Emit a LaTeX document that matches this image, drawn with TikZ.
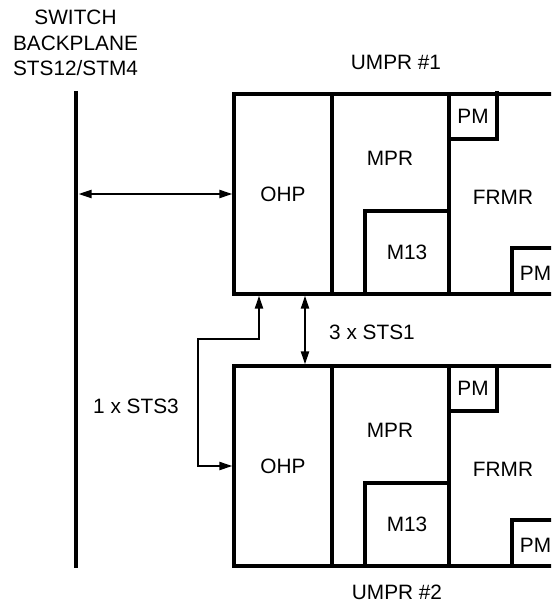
\documentclass[tikz,border=0pt]{standalone}
\usepackage{fontspec}
\setmainfont{Liberation Sans}
\usetikzlibrary{arrows.meta}
\begin{document}
\begin{tikzpicture}[x=1pt,y=-1pt,
  lbl/.style={font=\fontsize{20.8}{25}\selectfont, inner sep=0pt, text height=14.9pt, text depth=0pt},
  part/.style={draw, line width=3.2pt, rectangle, inner sep=0pt, lbl},
  wall/.style={draw, line width=3.2pt},
  bus/.style={draw, line width=4.6pt},
  link/.style={line width=2pt, {Triangle[length=13pt,width=8pt]}-{Triangle[length=13pt,width=8pt]}},
]
\useasboundingbox (0,0) rectangle (551,604);
\clip (0,0) rectangle (551,604);

% backplane
\node[lbl] (sw1) at (75.5,17) {SWITCH};
\node[lbl] (sw2) at (75.5,43) {BACKPLANE};
\node[lbl] (sw3) at (75.5,68) {STS12/STM4};
\coordinate (bptop) at (76,91);
\coordinate (bpbot) at (76,568);
\draw[bus] (bptop) -- (bpbot);

% the two UMPR cards
\foreach \i/\dy in {1/0,2/272}{
  \begin{scope}[shift={(0,\dy)}]
    \draw[wall] (234,94) rectangle (575,294);
    \node[part, minimum width=98pt, minimum height=200pt] (ohp\i) at (283,194) {OHP};
    \draw[wall] (449,94) -- (449,294);
    \node[lbl] (mpr\i) at (390,158) {MPR};
    \node[part, minimum width=84pt, minimum height=83pt] (m13\i) at (407,252.5) {M13};
    \node[part, minimum width=48pt, minimum height=45pt] (pma\i) at (473,116.5) {PM};
    \draw[wall] (512,294) |- (575,248);
    \node[lbl] (pmb\i) at (535.5,273.5) {PM};
    \node[lbl] (frmr\i) at (503,197) {FRMR};
  \end{scope}
}
\draw[wall] (497,91) -- (497,95);

\node[lbl] (u1) at (396,62) {UMPR \#1};
\node[lbl] (u2) at (397,592) {UMPR \#2};
\node[lbl] (sts1) at (372,332) {3 x STS1};
\node[lbl] (sts3) at (136,406) {1 x STS3};

% connectors
\coordinate (bpa) at (78.5,194);
\draw[link] (bpa) -- (ohp1.west);
\coordinate (e1) at (259,339);
\coordinate (e2) at (198,339);
\draw[link] (ohp1.south -| e1) -- (e1) -- (e2) |- (ohp2.west);
\coordinate (v) at (305,330);
\draw[link] (ohp1.south -| v) -- (ohp2.north -| v);
\end{tikzpicture}
\end{document}
